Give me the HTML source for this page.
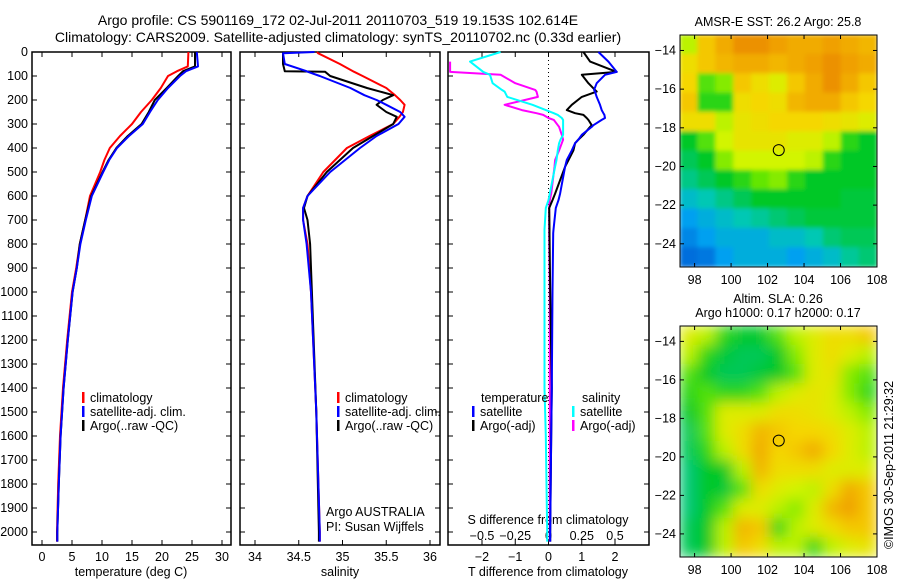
<!DOCTYPE html>
<html><head><meta charset="utf-8"><style>
body{margin:0;background:#fff;}
svg{display:block;font-family:"Liberation Sans",sans-serif;font-size:12.5px;}
</style></head><body>
<svg id="c" width="900" height="580"></svg>
<script>
// ---------- DATA ----------
const depthTicks=[0,100,200,300,400,500,600,700,800,900,1000,1100,1200,1300,1400,1500,1600,1700,1800,1900,2000];
const tempTicks=[0,5,10,15,20,25,30];
const salTicks=[34,34.5,35,35.5,36];
const tdiffTicks=[-2,-1,0,1,2];
const sdiffTicks=[-0.5,-0.25,0,0.25,0.5];
const lonTicks=[98,100,102,104,106,108];
const latTicks=[-14,-16,-18,-20,-22,-24];

const tDepths=[0,60,80,100,150,200,250,300,350,400,450,500,600,700,800,900,1000,1200,1400,1600,1800,2000,2040];
const tClim=[24.4,24.3,22.5,21,19.8,18.3,16.5,15,13,11.3,10.4,9.7,8,7.2,6.3,5.7,5,4.2,3.5,3,2.7,2.5,2.5];
const tSat=[25.8,26,24,23,21,19.3,18,16.8,14.5,12.5,11.2,10.2,8.3,7.3,6.4,5.8,5.1,4.3,3.6,3.1,2.8,2.55,2.55];
const tArgo=[25.5,25.5,23.5,22.7,20.8,18.8,17.8,16.6,14.3,12.4,11.1,10.1,8.2,7.2,6.3,5.8,5.1,4.3,3.6,3.1,2.8,2.55,2.55];

const sDepths=[0,5,50,80,82,100,150,180,200,220,250,270,300,350,400,500,600,650,700,800,1000,1500,2000,2040];
const sClim=[34.71,34.72,34.97,35.12,35.13,35.23,35.5,35.6,35.66,35.71,35.69,35.65,35.58,35.31,35.05,34.78,34.6,34.55,34.55,34.6,34.64,34.7,34.74,34.74];
const sSat=[34.68,34.32,34.34,34.59,34.6,34.74,35.09,35.25,35.39,35.5,35.66,35.71,35.64,35.39,35.2,34.86,34.6,34.55,34.55,34.59,34.64,34.7,34.74,34.74];
const sArgo=[34.32,34.32,34.32,34.34,34.8,34.86,35.28,35.58,35.46,35.39,35.5,35.62,35.58,35.35,35.12,34.82,34.6,34.56,34.6,34.63,34.65,34.7,34.73,34.73];

const dDepths=[0,40,83,95,130,158,165,187,220,242,255,262,275,283,305,312,345,365,380,410,450,478,590,617,650,740,755,1000,1400,1600,2000,2040];
const dTSat=[1.5,1.8,2.05,1.7,1.45,1.37,1.4,1.45,1.55,1.6,1.65,1.68,1.7,1.6,1.35,1.3,1.0,0.9,0.8,0.7,0.55,0.5,0.35,0.3,0.22,0.15,0.14,0.12,0.1,0.08,0.05,0.05];
const dTArgo=[1.05,1.25,2.05,1.0,1.2,1.4,1.45,1.0,0.7,0.55,0.8,1.05,1.15,1.2,1.3,1.25,1.05,0.9,0.8,0.75,0.6,0.5,0.2,0.12,0.02,0.03,0.03,0.05,0.1,0.08,0.05,0.05];
const dSSat=[-0.36,-0.59,-0.49,-0.44,-0.42,-0.35,-0.33,-0.31,-0.12,-0.02,0.04,0.07,0.1,0.11,0.11,0.11,0.11,0.09,0.08,0.07,0.06,0.05,0.01,0,-0.02,-0.03,-0.03,-0.03,-0.03,-0.02,-0.01,-0.01];
const dSArgo=[null,-0.74,-0.74,-0.36,-0.25,-0.1,-0.09,-0.08,-0.33,-0.2,-0.09,-0.04,0.0,0.04,0.07,0.08,0.1,0.11,0.1,0.08,0.05,0.045,0.02,0.01,0.005,0.005,0.005,0.01,0.01,0.01,0.01,0.01];

const sstGrid=[
[0.7,0.85,0.9,0.95,0.95,0.92,0.9,0.9,0.92,0.9,0.88],
[0.8,0.85,0.88,0.9,0.9,0.88,0.9,0.92,0.95,0.92,0.9],
[0.82,0.6,0.65,0.85,0.8,0.75,0.85,0.9,0.95,0.9,0.85],
[0.85,0.55,0.55,0.8,0.82,0.8,0.88,0.9,0.9,0.85,0.82],
[0.8,0.8,0.7,0.78,0.8,0.82,0.82,0.82,0.8,0.78,0.75],
[0.5,0.6,0.72,0.78,0.78,0.78,0.75,0.75,0.7,0.55,0.5],
[0.45,0.5,0.65,0.72,0.72,0.72,0.72,0.7,0.55,0.5,0.5],
[0.4,0.45,0.5,0.55,0.62,0.65,0.55,0.5,0.5,0.5,0.5],
[0.3,0.35,0.4,0.45,0.5,0.5,0.5,0.5,0.5,0.48,0.48],
[0.2,0.25,0.3,0.35,0.38,0.42,0.45,0.48,0.48,0.48,0.48],
[0.15,0.2,0.25,0.25,0.25,0.3,0.3,0.35,0.42,0.45,0.45],
[0.1,0.12,0.2,0.25,0.25,0.25,0.2,0.25,0.3,0.38,0.42]];
const slaGrid=[
[0.75,0.7,0.55,0.5,0.5,0.6,0.7,0.75,0.8,0.8,0.85],
[0.7,0.55,0.48,0.45,0.45,0.5,0.65,0.75,0.8,0.75,0.7],
[0.6,0.5,0.45,0.45,0.48,0.5,0.6,0.75,0.78,0.65,0.6],
[0.55,0.6,0.55,0.55,0.6,0.7,0.75,0.78,0.75,0.65,0.55],
[0.5,0.6,0.75,0.75,0.75,0.8,0.8,0.78,0.75,0.7,0.65],
[0.45,0.6,0.75,0.8,0.88,0.85,0.82,0.82,0.8,0.75,0.7],
[0.45,0.55,0.7,0.8,0.9,0.82,0.85,0.9,0.82,0.75,0.7],
[0.42,0.5,0.5,0.7,0.88,0.8,0.8,0.8,0.75,0.75,0.75],
[0.42,0.5,0.48,0.6,0.8,0.75,0.72,0.7,0.8,0.9,0.85],
[0.42,0.5,0.6,0.75,0.75,0.7,0.65,0.75,0.88,0.92,0.85],
[0.45,0.5,0.7,0.88,0.85,0.55,0.7,0.75,0.8,0.85,0.85],
[0.45,0.5,0.7,0.85,0.8,0.7,0.7,0.55,0.7,0.75,0.78]];
const argoLon=102.614, argoLat=-19.153;

// ---------- HELPERS ----------
const NS="http://www.w3.org/2000/svg";
const svg=document.getElementById('c');
function mk(tag,at,parent){const e=document.createElementNS(NS,tag);for(const k in at)e.setAttribute(k,at[k]);(parent||svg).appendChild(e);return e;}
function txt(x,y,s,anchor,parent){const t=mk('text',{x:x,y:y,'text-anchor':anchor||'start',fill:'#000'},parent);t.textContent=s;return t;}
const yTop=52,yBot=545;
const yD=d=>yTop+d*0.24;

function panel(x0,x1,name){
  const g=mk('g',{});
  
  
  mk('rect',{x:x0,y:yTop,width:x1-x0,height:yBot-yTop,fill:'none',stroke:'#000','stroke-width':1.5},g);
  depthTicks.forEach(d=>{const y=yD(d);
    mk('line',{x1:x0,x2:x0+5,y1:y,y2:y,stroke:'#000'},g);
    mk('line',{x1:x1-5,x2:x1,y1:y,y2:y,stroke:'#000'},g);});
  return g;
}
function series(xf,depths,vals,color,w,name,parent){
  let pts=[];depths.forEach((d,i)=>{if(vals[i]!==null)pts.push(xf(vals[i]).toFixed(1)+','+yD(d).toFixed(1));});
  const p=mk('polyline',{points:pts.join(' '),fill:'none',stroke:color,'stroke-width':w,'stroke-linejoin':'round'},parent);
  
  
}
function legend(x,y,color,label,parent){
  mk('rect',{x:x,y:y-10,width:2.5,height:11,fill:color},parent);
  txt(x+8,y,label,'start',parent);
}

// ---------- TITLE ----------
const t1=txt(338,25,'Argo profile: CS 5901169_172 02-Jul-2011 20110703_519 19.153S 102.614E','middle');
t1.setAttribute('font-size','14');

const t2=txt(338,42,'Climatology: CARS2009. Satellite-adjusted climatology: synTS_20110702.nc (0.33d earlier)','middle');
t2.setAttribute('font-size','14');


// depth labels
const dl=mk('g',{});

depthTicks.forEach(d=>txt(28,yD(d)+4,String(d),'end',dl));

// ---------- PANEL 1 TEMPERATURE ----------
const xT=v=>42+v*6;
const p1=panel(32,231,'temperature-panel');
tempTicks.forEach(v=>{const x=xT(v);mk('line',{x1:x,x2:x,y1:yBot,y2:yBot-5,stroke:'#000'},p1);mk('line',{x1:x,x2:x,y1:yTop,y2:yTop+5,stroke:'#000'},p1);txt(x,561,String(v),'middle',p1);});
txt(131,576,'temperature (deg C)','middle',p1);
series(xT,tDepths,tClim,'#f00',2,'temp-climatology-line',p1);
series(xT,tDepths,tArgo,'#000',2,'temp-argo-line',p1);
series(xT,tDepths,tSat,'#00f',2,'temp-satellite-line',p1);
const lg1=mk('g',{},p1);
legend(82,402,'#f00','climatology',lg1);legend(82,416,'#00f','satellite-adj. clim.',lg1);legend(82,430,'#000','Argo(..raw -QC)',lg1);

// ---------- PANEL 2 SALINITY ----------
const xS=v=>255+(v-34)*87.5;
const p2=panel(240,440,'salinity-panel');
salTicks.forEach(v=>{const x=xS(v);mk('line',{x1:x,x2:x,y1:yBot,y2:yBot-5,stroke:'#000'},p2);mk('line',{x1:x,x2:x,y1:yTop,y2:yTop+5,stroke:'#000'},p2);txt(x,561,String(v),'middle',p2);});
txt(340,576,'salinity','middle',p2);
series(xS,sDepths,sClim,'#f00',2,'sal-climatology-line',p2);
series(xS,sDepths,sArgo,'#000',2,'sal-argo-line',p2);
series(xS,sDepths,sSat,'#00f',2,'sal-satellite-line',p2);
const lg2=mk('g',{},p2);
legend(337,402,'#f00','climatology',lg2);legend(337,416,'#00f','satellite-adj. clim.',lg2);legend(337,430,'#000','Argo(..raw -QC)',lg2);
txt(326,516,'Argo AUSTRALIA','start',p2);txt(326,531,'PI: Susan Wijffels','start',p2);

// ---------- PANEL 3 DIFFERENCES ----------
const xD=v=>548.5+v*33.25;
const xSD=v=>548.5+v*4*33.25;
const p3=panel(448,649,'difference-panel');
mk('line',{x1:548.5,x2:548.5,y1:yTop,y2:yBot,stroke:'#000','stroke-dasharray':'1,3'},p3);
tdiffTicks.forEach(v=>{const x=xD(v);mk('line',{x1:x,x2:x,y1:yBot,y2:yBot-5,stroke:'#000'},p3);mk('line',{x1:x,x2:x,y1:yTop,y2:yTop+5,stroke:'#000'},p3);txt(x,561,v<0?'\u2212'+(-v):String(v),'middle',p3);});
sdiffTicks.forEach(v=>txt(xSD(v),540,v<0?'\u2212'+(-v):String(v),'middle',p3));
txt(548,524,'S difference from climatology','middle',p3);
txt(548,576,'T difference from climatology','middle',p3);
series(xSD,dDepths,dSArgo,'#f0f',2,'s-diff-argo-line',p3);
series(xSD,dDepths,dSSat,'#0ff',2,'s-diff-satellite-line',p3);
series(xD,dDepths,dTArgo,'#000',2,'t-diff-argo-line',p3);
series(xD,dDepths,dTSat,'#00f',2,'t-diff-satellite-line',p3);
const lg3=mk('g',{},p3);
txt(481,402,'temperature','start',lg3);txt(582,402,'salinity','start',lg3);
legend(472,416,'#00f','satellite',lg3);legend(472,430,'#000','Argo(-adj)',lg3);
legend(572,416,'#0ff','satellite',lg3);legend(572,430,'#f0f','Argo(-adj)',lg3);

// ---------- MAPS ----------
const stops=[[0,[10,60,200]],[0.2,[0,160,240]],[0.35,[0,200,180]],[0.5,[0,200,40]],[0.62,[100,230,0]],[0.72,[210,245,0]],[0.82,[245,215,0]],[0.92,[240,160,0]],[1,[230,120,0]]];
function cmap(v){for(let i=1;i<stops.length;i++){if(v<=stops[i][0]){const a=stops[i-1],b=stops[i],f=(v-a[0])/(b[0]-a[0]);return 'rgb('+a[1].map((c,k)=>Math.round(c+(b[1][k]-c)*f)).join(',')+')';}}return 'rgb(230,120,0)';}
const defs=mk('defs',{});
function map(x0,x1,y0,y1,grid,name,blur,id){
  const lonMin=97.2,lonMax=108.0,latMax=-13.2,latMin=-25.2;
  const xL=l=>x0+(l-lonMin)/(lonMax-lonMin)*(x1-x0);
  const yL=l=>y0+(latMax-l)/(latMax-latMin)*(y1-y0);
  const g=mk('g',{});
  const cp=mk('clipPath',{id:'clip'+id},defs);mk('rect',{x:x0,y:y0,width:x1-x0,height:y1-y0},cp);
  const f=mk('filter',{id:'blur'+id,x:'-10%',y:'-10%',width:'120%',height:'120%'},defs);
  mk('feGaussianBlur',{stdDeviation:blur,edgeMode:'duplicate'},f);
  const cg=mk('g',{'clip-path':'url(#clip'+id+')'},g);
  const hg=mk('g',{filter:'url(#blur'+id+')'},cg);
  const nr=grid.length,nc=grid[0].length,dlon=(lonMax-lonMin)/nc,dlat=(latMax-latMin)/nr;
  grid.forEach((row,r)=>row.forEach((v,c)=>{
    const xa=xL(lonMin+c*dlon),xb=xL(lonMin+(c+1)*dlon),ya=yL(latMax-r*dlat),yb=yL(latMax-(r+1)*dlat);
    const cell=mk('rect',{x:xa-0.5,y:ya-0.5,width:xb-xa+1,height:yb-ya+1,fill:cmap(v)},hg);
    
    
  }));
  mk('rect',{x:x0,y:y0,width:x1-x0,height:y1-y0,fill:'none',stroke:'#000','stroke-width':1},g);
  lonTicks.forEach(l=>{const x=xL(l);mk('line',{x1:x,x2:x,y1:y0,y2:y0+4,stroke:'#000'},g);mk('line',{x1:x,x2:x,y1:y1,y2:y1-4,stroke:'#000'},g);txt(x,y1+17,String(l),'middle',g);});
  latTicks.forEach(l=>{const y=yL(l);mk('line',{x1:x0,x2:x0+4,y1:y,y2:y,stroke:'#000'},g);mk('line',{x1:x1-4,x2:x1,y1:y,y2:y,stroke:'#000'},g);txt(x0-4,y+4,'\u2212'+(-l),'end',g);});
  const m=mk('circle',{cx:xL(argoLon),cy:yL(argoLat),r:5.5,fill:'none',stroke:'#000','stroke-width':1},g);
  
  return g;
}
const m1=map(680,877,35,267,sstGrid,'sst-map',2,1);
txt(778,26,'AMSR-E SST: 26.2 Argo: 25.8','middle',m1);
const m2=map(680,877,326,557,slaGrid,'sla-map',7,2);
txt(778,303,'Altim. SLA: 0.26','middle',m2);txt(778,317,'Argo h1000: 0.17 h2000: 0.17','middle',m2);
const cr=txt(0,0,'\u00a9IMOS 30-Sep-2011 21:29:32','middle');
cr.setAttribute('transform','translate(893,465) rotate(-90)');

</script>
</body></html>
